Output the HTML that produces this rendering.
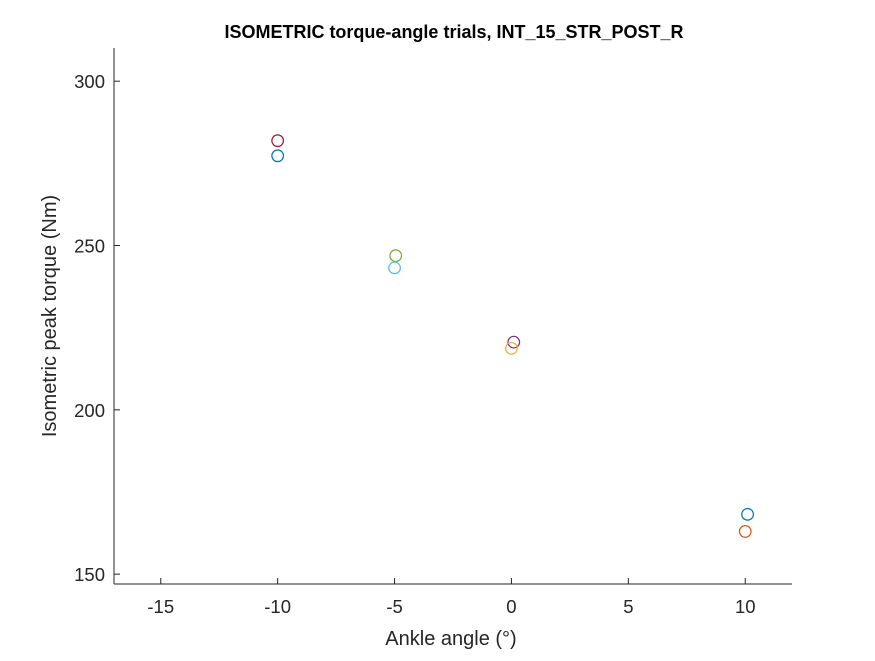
<!DOCTYPE html>
<html><head><meta charset="utf-8"><style>
body{margin:0;background:#fff;}
svg text{font-family:"Liberation Sans",Arial,sans-serif;fill:#262626;}
</style></head><body>
<svg id="chart" width="875" height="656">
<text x="454" y="38" text-anchor="middle" font-size="18" font-weight="bold" style="fill:#000">ISOMETRIC torque-angle trials, INT_15_STR_POST_R</text>
<g id="axes"></g>
<g id="marks"></g>
<text x="451" y="645" text-anchor="middle" font-size="20">Ankle angle (°)</text>
<text transform="translate(56,316) rotate(-90)" text-anchor="middle" font-size="20">Isometric peak torque (Nm)</text>
</svg>
<script>
const xTicks=[-15,-10,-5,0,5,10];
const yTicks=[150,200,250,300];
const angles=[-10,-10,-4.95,-5,0.1,0,10.1,10];
const torques=[281.9,277.3,246.9,243.2,220.6,218.7,168.2,163.0];
const colors=["#A2142F","#0072BD","#77AC30","#4DBEEE","#7E2F8E","#EDB120","#0072BD","#D95319"];
const X0=114,X1=792,Y0=584,Y1=48,xmin=-17,xmax=12,ymin=147,ymax=310.1;
const sx=v=>X0+(v-xmin)/(xmax-xmin)*(X1-X0);
const sy=v=>Y0-(v-ymin)/(ymax-ymin)*(Y0-Y1);
const NS="http://www.w3.org/2000/svg";
const ax=document.getElementById('axes'),mk=document.getElementById('marks');
function mkEl(t,a,p){const e=document.createElementNS(NS,t);for(const k in a)e.setAttribute(k,a[k]);p.appendChild(e);return e;}
let l=mkEl('line',{x1:X0,y1:Y0,x2:X1,y2:Y0,stroke:'#262626'},ax);


l=mkEl('line',{x1:X0,y1:Y0,x2:X0,y2:Y1,stroke:'#262626'},ax);


xTicks.forEach(v=>{const x=sx(v);
mkEl('line',{x1:x,y1:Y0,x2:x,y2:Y0-6,stroke:'#262626'},ax);
const t=mkEl('text',{x:x,y:Y0+29,'text-anchor':'middle','font-size':18.5},ax);t.textContent=v;

});
yTicks.forEach(v=>{const y=sy(v);
mkEl('line',{x1:X0,y1:y,x2:X0+6,y2:y,stroke:'#262626'},ax);
const t=mkEl('text',{x:X0-9,y:y+7,'text-anchor':'end','font-size':18.5},ax);t.textContent=v;

});
angles.forEach((a,i)=>{const c=mkEl('circle',{cx:sx(a),cy:sy(torques[i]),r:5.8,fill:'none',stroke:colors[i],'stroke-width':1.2},mk);

});
</script>
</body></html>
